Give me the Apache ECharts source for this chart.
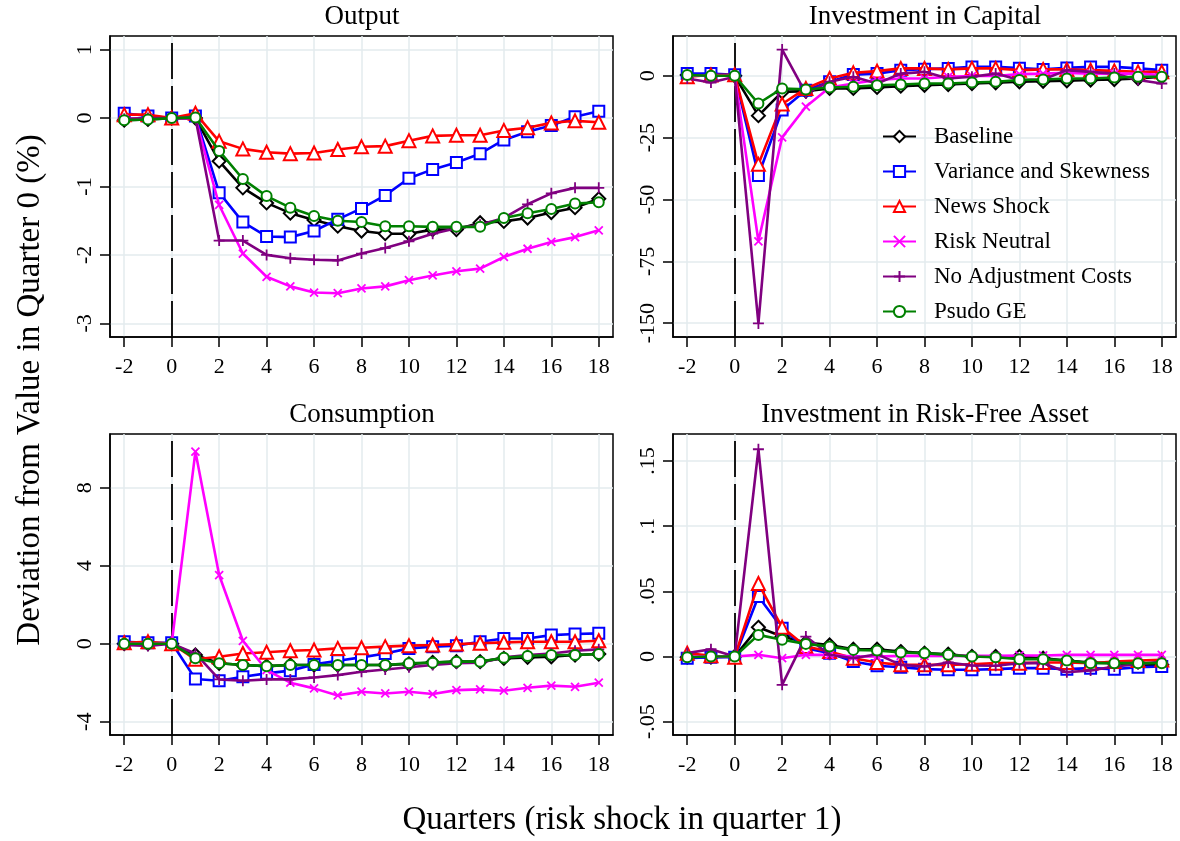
<!DOCTYPE html>
<html>
<head>
<meta charset="utf-8">
<title>Risk shock responses</title>
<script src="https://cdn.jsdelivr.net/npm/echarts@6/dist/echarts.min.js"></script>
<style>
	html, body { margin: 0; padding: 0; background: #fff; }
	#report_chart { width: 1180px; height: 841px; }
</style>
</head>
<body>
<div id="report_chart"></div>
<script>
// quarters on the x axis
var quarters = [-2, -1, 0, 1, 2, 3, 4, 5, 6, 7, 8, 9, 10, 11, 12, 13, 14, 15, 16, 17, 18];
var seriesNames = ['Baseline', 'Variance and Skewness', 'News Shock', 'Risk Neutral', 'No Adjustment Costs', 'Psudo GE'];

// Output
var outBaseline = [-0.03, -0.02, 0, 0, -0.63, -1.02, -1.24, -1.39, -1.49, -1.58, -1.65, -1.69, -1.69, -1.63, -1.63, -1.53, -1.51, -1.46, -1.38, -1.31, -1.18];
var outVariance = [0.07, 0.03, 0, 0.03, -1.09, -1.52, -1.73, -1.74, -1.65, -1.48, -1.32, -1.13, -0.88, -0.75, -0.65, -0.52, -0.32, -0.2, -0.11, 0.02, 0.1];
var outNews = [0.05, 0.05, 0, 0.07, -0.34, -0.45, -0.5, -0.52, -0.51, -0.46, -0.42, -0.41, -0.33, -0.26, -0.25, -0.25, -0.18, -0.14, -0.07, -0.04, -0.06];
var outRiskNeutral = [-0.01, -0.01, 0, 0, -1.27, -1.98, -2.32, -2.46, -2.55, -2.56, -2.49, -2.46, -2.37, -2.3, -2.24, -2.2, -2.03, -1.91, -1.81, -1.74, -1.64];
var outNoAdj = [-0.01, 0, 0, 0, -1.79, -1.79, -2.0, -2.05, -2.07, -2.08, -1.98, -1.9, -1.8, -1.69, -1.61, -1.56, -1.46, -1.26, -1.1, -1.02, -1.02];
var outPsudo = [-0.03, -0.02, 0, 0.01, -0.48, -0.89, -1.14, -1.31, -1.43, -1.5, -1.52, -1.58, -1.58, -1.59, -1.59, -1.59, -1.46, -1.39, -1.33, -1.25, -1.23];

// Investment in Capital
var capBaseline = [0.3, 0, 0, -16.1, -6.5, -6.2, -5.1, -5.1, -4.7, -4.2, -3.8, -3.5, -3.1, -2.8, -2.4, -2.2, -2.0, -1.7, -1.5, -1.1, -0.4];
var capVariance = [0.9, 0.9, 0.4, -40.3, -13.8, -5.8, -2.4, 0.5, 0.9, 2.3, 2.7, 3.0, 3.6, 3.6, 3.1, 2.6, 3.2, 3.6, 3.6, 3.0, 2.3];
var capNews = [-0.4, 0.3, 0.4, -35.8, -11.4, -5.1, -1.1, 1.2, 1.9, 3.0, 3.0, 2.6, 3.0, 3.0, 2.3, 2.6, 2.6, 2.3, 2.0, 1.6, 1.6];
var capRiskNeutral = [0, 0, 0, -66.9, -24.9, -12.5, -4.7, -3.1, -1.7, -1.1, -1.1, -0.4, -0.1, -0.1, 0.7, 0.9, 1.2, 0.9, 0.9, 0.9, 0.3];
var capNoAdj = [-1.1, -2.7, -0.4, -100.1, 10.6, -7.1, -2.4, -0.4, -3.1, 0.9, 1.6, -1.1, -0.4, 0.9, -1.7, -1.5, 2.3, 1.6, 0.9, -1.7, -3.1];
var capPsudo = [0.3, 0, 0, -11.2, -5.1, -5.5, -4.7, -4.4, -3.8, -3.5, -3.1, -3.1, -2.7, -2.4, -1.7, -1.5, -1.1, -1.1, -0.7, -0.4, -0.4];

// Consumption
var conBaseline = [0, 0, 0, -0.58, -1.0, -1.09, -1.15, -1.09, -1.09, -1.09, -1.09, -1.09, -1.04, -0.96, -0.92, -0.92, -0.75, -0.7, -0.67, -0.58, -0.53];
var conVariance = [0.1, 0.05, 0.05, -1.81, -1.9, -1.69, -1.52, -1.38, -1.06, -0.87, -0.7, -0.5, -0.24, -0.15, -0.1, 0.1, 0.27, 0.27, 0.44, 0.5, 0.53];
var conNews = [0.05, 0.1, 0, -0.8, -0.67, -0.5, -0.44, -0.36, -0.32, -0.24, -0.21, -0.15, -0.1, -0.07, -0.02, 0.02, 0.07, 0.1, 0.1, 0.1, 0.15];
var conRiskNeutral = [0, 0, 0, 9.85, 3.52, 0.15, -1.35, -2.0, -2.29, -2.65, -2.46, -2.55, -2.46, -2.58, -2.38, -2.34, -2.41, -2.26, -2.15, -2.21, -2.0];
var conNoAdj = [-0.07, -0.12, 0, -0.5, -1.83, -1.9, -1.83, -1.83, -1.73, -1.61, -1.44, -1.32, -1.21, -1.09, -1.0, -0.97, -0.7, -0.58, -0.5, -0.36, -0.29];
var conPsudo = [0, 0, 0, -0.75, -1.0, -1.09, -1.15, -1.09, -1.09, -1.09, -1.09, -1.09, -1.0, -0.97, -0.92, -0.92, -0.72, -0.63, -0.58, -0.58, -0.53];

// Investment in Risk-Free Asset
var rfBaseline = [-0.0005, -0.0005, 0, 0.0224, 0.0153, 0.0107, 0.0089, 0.0056, 0.0056, 0.0038, 0.0026, 0.0018, 0, 0, 0, -0.0013, -0.003, -0.0046, -0.0051, -0.0064, -0.0064];
var rfVariance = [-0.0013, -0.0005, -0.0005, 0.046, 0.0217, 0.0064, 0.0026, -0.0038, -0.0071, -0.0082, -0.0097, -0.0102, -0.0102, -0.0097, -0.0089, -0.0089, -0.0097, -0.0089, -0.0097, -0.0082, -0.0077];
var rfNews = [0.0026, 0.0005, -0.0005, 0.056, 0.0224, 0.0077, 0.0038, -0.0013, -0.0046, -0.0064, -0.0064, -0.0064, -0.0059, -0.0051, -0.0051, -0.0046, -0.0046, -0.0051, -0.0038, -0.0031, -0.0026];
var rfRiskNeutral = [0, 0, 0, 0.0013, -0.0013, 0.0013, 0.0013, 0, 0, 0.0005, 0.0005, 0.0005, 0.0005, 0.0005, 0.0008, 0.0008, 0.0013, 0.0013, 0.0013, 0.0013, 0.0013];
var rfNoAdj = [0.0026, 0.0056, 0, 0.159, -0.0217, 0.0153, 0.0013, -0.0013, 0.0018, -0.0064, -0.0077, -0.0046, -0.0069, -0.0071, -0.0051, -0.0051, -0.012, -0.0107, -0.0077, -0.0059, -0.0038];
var rfPsudo = [-0.0005, 0, 0, 0.0166, 0.0128, 0.0097, 0.0077, 0.0051, 0.0046, 0.0031, 0.0026, 0.0013, 0, -0.0005, -0.002, -0.002, -0.003, -0.0051, -0.0051, -0.0051, -0.0051];

// tick labels
var xTicks = [-2, 0, 2, 4, 6, 8, 10, 12, 14, 16, 18];
var outYTicks = [-3, -2, -1, 0, 1];
var outYLabels = ['-3', '-2', '-1', '0', '1'];
var capYTicks = [-100, -75, -50, -25, 0];
var capYLabels = ['-150', '-75', '-50', '-25', '0'];
var conYTicks = [-4, 0, 4, 8];
var conYLabels = ['-4', '0', '4', '8'];
var rfYTicks = [-0.05, 0, 0.05, 0.1, 0.15];
var rfYLabels = ['-.05', '0', '.05', '.1', '.15'];

var serif = '"Liberation Serif", "DejaVu Serif", serif';
var gridLineColor = '#e3ebee';

var styles = [
	{ color: '#000000', symbol: 'emptyDiamond', size: 13 },
	{ color: '#0000ff', symbol: 'emptyRect', size: 11 },
	{ color: '#ff0000', symbol: 'emptyTriangle', size: 13 },
	{ color: '#ff00ff', symbol: 'path://M0,0L10,10M10,0L0,10', size: 8 },
	{ color: '#800080', symbol: 'path://M5,0L5,10M0,5L10,5', size: 11 },
	{ color: '#008000', symbol: 'emptyCircle', size: 10 }
];

var panels = [
	{ title: 'Output', left: 110, top: 36, min: -3.2, max: 1.2, ticks: outYTicks, labels: outYLabels,
		data: [outBaseline, outVariance, outNews, outRiskNeutral, outNoAdj, outPsudo] },
	{ title: 'Investment in Capital', left: 673, top: 36, min: -105.6, max: 16.1, ticks: capYTicks, labels: capYLabels,
		data: [capBaseline, capVariance, capNews, capRiskNeutral, capNoAdj, capPsudo] },
	{ title: 'Consumption', left: 110, top: 434, min: -4.68, max: 10.75, ticks: conYTicks, labels: conYLabels,
		data: [conBaseline, conVariance, conNews, conRiskNeutral, conNoAdj, conPsudo] },
	{ title: 'Investment in Risk-Free Asset', left: 673, top: 434, min: -0.0602, max: 0.1707, ticks: rfYTicks, labels: rfYLabels,
		data: [rfBaseline, rfVariance, rfNews, rfRiskNeutral, rfNoAdj, rfPsudo] }
];

function pairs(values) {
	var out = [];
	for (var i = 0; i < quarters.length; i++) {
		out.push([quarters[i], values[i]]);
	}
	return out;
}

function initChart() {
	var grids = [], xAxes = [], yAxes = [], series = [], graphics = [];

	panels.forEach(function (p, gi) {
		grids.push({
			left: p.left,
			top: p.top,
			width: 503,
			height: 301,
			show: true,
			borderColor: '#000',
			borderWidth: 1.5,
			backgroundColor: 'transparent'
		});
		xAxes.push({
			type: 'value',
			gridIndex: gi,
			min: -2.6,
			max: 18.6,
			axisLine: { show: true, onZero: false, lineStyle: { color: '#000', width: 1.5 } },
			axisTick: { show: true, customValues: xTicks, length: 10, lineStyle: { color: '#000', width: 1.5 } },
			axisLabel: { customValues: xTicks, margin: 19, color: '#000', fontFamily: serif, fontSize: 22 },
			splitLine: { show: true, lineStyle: { color: gridLineColor, width: 1.5 } }
		});
		yAxes.push({
			type: 'value',
			gridIndex: gi,
			min: p.min,
			max: p.max,
			axisLine: { show: true, onZero: false, lineStyle: { color: '#000', width: 1.5 } },
			axisTick: { show: true, customValues: p.ticks, length: 10, lineStyle: { color: '#000', width: 1.5 } },
			axisLabel: {
				customValues: p.ticks,
				rotate: 90,
				margin: 14,
				color: '#000',
				fontFamily: serif,
				fontSize: 22,
				formatter: function (v) {
					for (var k = 0; k < p.ticks.length; k++) {
						if (Math.abs(p.ticks[k] - v) < 1e-9) return p.labels[k];
					}
					return '';
				}
			},
			splitLine: { show: true, lineStyle: { color: gridLineColor, width: 1.5 } }
		});

		p.data.forEach(function (vals, si) {
			var st = styles[si];
			var s = {
				name: seriesNames[si],
				type: 'line',
				xAxisIndex: gi,
				yAxisIndex: gi,
				data: pairs(vals),
				symbol: st.symbol,
				symbolSize: st.size,
				showAllSymbol: true,
				lineStyle: { color: st.color, width: 2.6 },
				itemStyle: { color: st.color, borderColor: st.color, borderWidth: 1.8 },
				z: 3 + si
			};
			if (si === 0) {
				// dashed marker at quarter 0
				s.markLine = {
					silent: true,
					symbol: ['none', 'none'],
					label: { show: false },
					lineStyle: { color: '#000', type: [36, 7], width: 1.8 },
					data: [{ xAxis: 0 }],
					z: 2
				};
			}
			series.push(s);
		});

		graphics.push({
			type: 'text',
			x: p.left + 252,
			y: p.top - 19,
			style: {
				text: p.title,
				font: '27px ' + serif,
				fill: '#000',
				align: 'center',
				verticalAlign: 'middle'
			}
		});
	});

	graphics.push({
		type: 'text',
		x: 30,
		y: 390,
		rotation: Math.PI / 2,
		style: {
			text: 'Deviation from Value in Quarter 0 (%)',
			font: '33px ' + serif,
			fill: '#000',
			align: 'center',
			verticalAlign: 'middle'
		}
	});
	graphics.push({
		type: 'text',
		x: 622,
		y: 820,
		style: {
			text: 'Quarters (risk shock in quarter 1)',
			font: '33px ' + serif,
			fill: '#000',
			align: 'center',
			verticalAlign: 'middle'
		}
	});

	var option = {
		animation: false,
		backgroundColor: '#fff',
		legend: {
			data: seriesNames,
			orient: 'vertical',
			left: 882,
			top: 125,
			padding: 0,
			itemWidth: 33,
			itemHeight: 14,
			itemGap: 12,
			textStyle: { color: '#000', fontFamily: serif, fontSize: 23, padding: [0, 0, 0, 13] }
		},
		grid: grids,
		xAxis: xAxes,
		yAxis: yAxes,
		series: series,
		graphic: graphics
	};

	var myChart = echarts.init(document.getElementById('report_chart'));
	myChart.setOption(option);
	window.myChart = myChart;

	window.addEventListener('resize', function () {
		myChart.resize();
	});
}

initChart();
</script>
</body>
</html>
